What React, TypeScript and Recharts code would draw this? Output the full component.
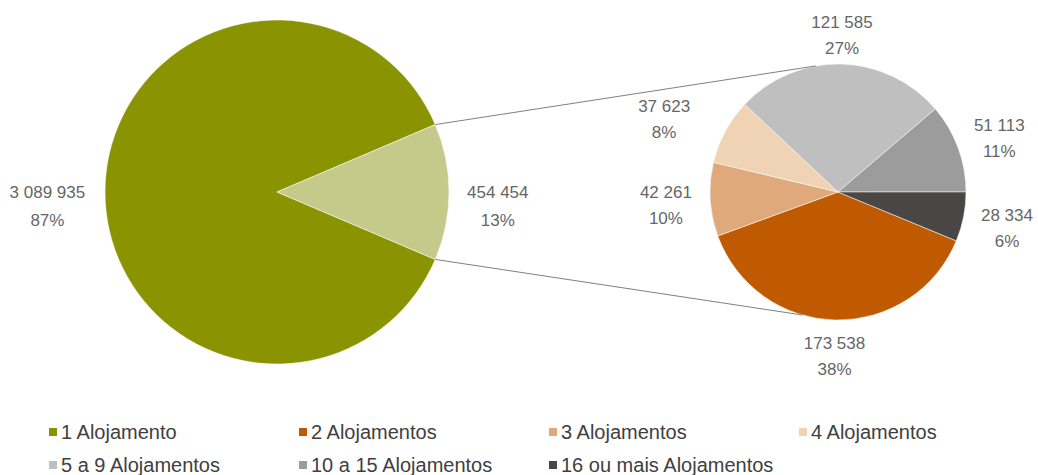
import { PieChart, Pie, Cell, Legend } from 'recharts';

const LEFT_NAMES = ['1 Alojamento', 'Outros'];
const LEFT_VALUES = [3089935, 454454];
const LEFT_PCT = [87, 13];
const LEFT_COLORS = ['#8A9400', '#C5C98A'];

const RIGHT_NAMES = ['2 Alojamentos', '3 Alojamentos', '4 Alojamentos', '5 a 9 Alojamentos', '10 a 15 Alojamentos', '16 ou mais Alojamentos'];
const RIGHT_VALUES = [173538, 42261, 37623, 121585, 51113, 28334];
const RIGHT_PCT = [38, 10, 8, 27, 11, 6];
const RIGHT_COLORS = ['#C05A00', '#E0A97C', '#F0D2B4', '#BFBFBF', '#9C9C9C', '#4A4646'];

const LEGEND_NAMES = ['1 Alojamento', '2 Alojamentos', '3 Alojamentos', '4 Alojamentos', '5 a 9 Alojamentos', '10 a 15 Alojamentos', '16 ou mais Alojamentos'];
const LEGEND_COLORS = ['#8A9400', '#C05A00', '#E0A97C', '#F0D2B4', '#BFBFBF', '#9C9C9C', '#4A4646'];

const leftData = LEFT_NAMES.map((name, i) => ({ name, value: LEFT_VALUES[i], pct: LEFT_PCT[i] }));
const rightData = RIGHT_NAMES.map((name, i) => ({ name, value: RIGHT_VALUES[i], pct: RIGHT_PCT[i] }));

const leftTotal = LEFT_VALUES.reduce((a, b) => a + b, 0);
const rightTotal = RIGHT_VALUES.reduce((a, b) => a + b, 0);
// second slice of the left pie is centred on the right side
const LEFT_START = (LEFT_VALUES[1] / leftTotal) * 180;
// right pie runs clockwise, last slice ends at 3 o'clock
const RIGHT_START = -(RIGHT_VALUES[RIGHT_VALUES.length - 1] / rightTotal) * 360;

const LEFT_CX = 277;
const RIGHT_CX = 838;
const CY = 192;
const LEFT_R = 172;
const RIGHT_R = 128;

const RAD = Math.PI / 180;
const fmt = (v: number) => String(v).replace(/\B(?=(\d{3})+(?!\d))/g, ' ');
const textColor = '#666666';

function labelBox(props: any, shiftY = 4, lineGap = 26) {
  const { cx, cy, midAngle, outerRadius, payload } = props;
  const txt = fmt(payload.value);
  const halfW = txt.length * 4.4;
  const halfH = 22;
  const c = Math.cos(midAngle * RAD);
  const s = Math.sin(midAngle * RAD);
  const gap = 10 + 8 * Math.abs(c);
  const ex = cx + (outerRadius + gap) * c;
  const ey = cy - (outerRadius + gap) * s;
  // upper-left labels are pushed further left, as in the original
  const tx = ex + halfW * c + (c < -0.5 && s > 0.3 ? 26 * c : 0);
  const ty = ey - halfH * s + shiftY + (c < -0.5 && s > 0.3 ? 3 : 0);
  return (
    <text x={tx} y={ty} textAnchor="middle" fill={textColor} fontSize={17} fontFamily="'Liberation Sans', Arial, sans-serif">
      <tspan x={tx} y={ty - lineGap / 2} dominantBaseline="central">{txt}</tspan>
      <tspan x={tx} y={ty + lineGap / 2} dominantBaseline="central">{payload.pct}%</tspan>
    </text>
  );
}

function rightLabel(props: any) {
  return labelBox(props);
}

function leftLabel(props: any) {
  const { cx, cy, midAngle, outerRadius, percent, index } = props;
  if (index !== 1) return labelBox(props, 14, 28);
  const half = percent * 180;
  const a1 = (midAngle + half) * RAD;
  const a2 = (midAngle - half) * RAD;
  const t1 = 100 * RAD;
  const t2 = -106 * RAD;
  return (
    <g>
      <line x1={cx + outerRadius * Math.cos(a1)} y1={cy - outerRadius * Math.sin(a1)}
        x2={RIGHT_CX + RIGHT_R * Math.cos(t1)} y2={CY - RIGHT_R * Math.sin(t1)} stroke="#808080" strokeWidth={1} />
      <line x1={cx + outerRadius * Math.cos(a2)} y1={cy - outerRadius * Math.sin(a2)}
        x2={RIGHT_CX + RIGHT_R * Math.cos(t2)} y2={CY - RIGHT_R * Math.sin(t2)} stroke="#808080" strokeWidth={1} />
      {labelBox(props, 14, 28)}
    </g>
  );
}

function LegendBlock() {
  return (
    <div style={{ position: 'relative', width: 1038, height: 60, fontFamily: "'Liberation Sans', Arial, sans-serif", fontSize: 20, color: '#404040' }}>
      {LEGEND_NAMES.map((name, i) => (
        <div key={name} style={{ position: 'absolute', left: 49 + (i % 4) * 250, top: Math.floor(i / 4) * 33, display: 'flex', alignItems: 'center', whiteSpace: 'nowrap', lineHeight: '24px' }}>
          <span style={{ display: 'inline-block', width: 8, height: 8, background: LEGEND_COLORS[i], marginRight: 4 }} />
          {name}
        </div>
      ))}
    </div>
  );
}

export default function App() {
  return (
    <div style={{ position: 'absolute', left: 0, top: 0, background: '#fff' }}>
      <PieChart width={1038} height={475} margin={{ top: 0, right: 0, bottom: 0, left: 0 }}>
        <Pie
          data={leftData}
          dataKey="value"
          cx={LEFT_CX}
          cy={CY}
          outerRadius={LEFT_R}
          startAngle={LEFT_START}
          endAngle={LEFT_START + 360}
          label={leftLabel}
          labelLine={false}
          isAnimationActive={false}
        >
          {leftData.map((d, i) => (
            <Cell key={d.name} fill={LEFT_COLORS[i]} stroke="#fff" strokeWidth={0.5} />
          ))}
        </Pie>
        <Pie
          data={rightData}
          dataKey="value"
          cx={RIGHT_CX}
          cy={CY}
          outerRadius={RIGHT_R}
          startAngle={RIGHT_START}
          endAngle={RIGHT_START - 360}
          label={rightLabel}
          labelLine={false}
          isAnimationActive={false}
        >
          {rightData.map((d, i) => (
            <Cell key={d.name} fill={RIGHT_COLORS[i]} stroke="#fff" strokeWidth={0.5} />
          ))}
        </Pie>
        <Legend content={() => <LegendBlock />} wrapperStyle={{ left: 0, top: 420, width: 1038 }} />
      </PieChart>
    </div>
  );
}
